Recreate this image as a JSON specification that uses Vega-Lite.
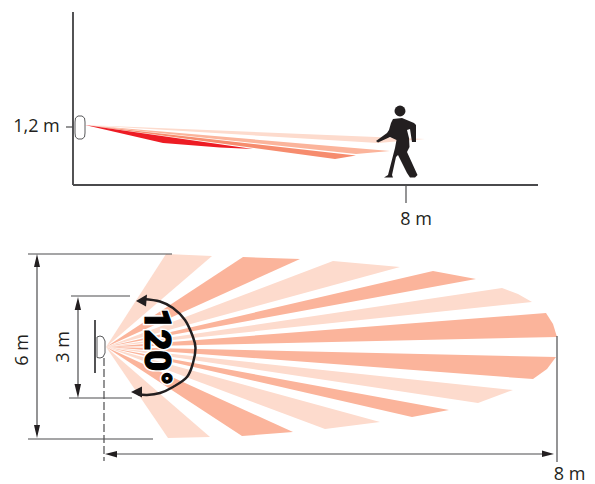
{"$schema":"https://vega.github.io/schema/vega-lite/v6.json","autosize":{"type":"fit","contains":"padding"},"width":595,"height":484,"padding":0,"background":"white","config":{"view":{"stroke":null}},
"datasets":{
"zones":[
{"s":"a1","k":"light","o":0,"x":85,"y":125},{"s":"a1","k":"light","o":1,"x":425,"y":139},{"s":"a1","k":"light","o":2,"x":378,"y":143},
{"s":"a2","k":"dark","o":0,"x":85,"y":125},{"s":"a2","k":"dark","o":1,"x":390,"y":151},{"s":"a2","k":"dark","o":2,"x":356,"y":154},
{"s":"a3","k":"medium","o":0,"x":85,"y":125},{"s":"a3","k":"medium","o":1,"x":356,"y":155.5},{"s":"a3","k":"medium","o":2,"x":335,"y":159},
{"s":"a4","k":"red","o":0,"x":85,"y":125},{"s":"a4","k":"red","o":1,"x":253,"y":149},{"s":"a4","k":"red","o":2,"x":220,"y":147.5},{"s":"a4","k":"red","o":3,"x":163,"y":143},
{"s":"w01","k":"light","o":0,"x":106,"y":347},{"s":"w01","k":"light","o":1,"x":166,"y":254},{"s":"w01","k":"light","o":2,"x":212,"y":256},
{"s":"w02","k":"dark","o":0,"x":106,"y":347},{"s":"w02","k":"dark","o":1,"x":243,"y":257},{"s":"w02","k":"dark","o":2,"x":300,"y":259},
{"s":"w03","k":"light","o":0,"x":106,"y":347},{"s":"w03","k":"light","o":1,"x":333,"y":261},{"s":"w03","k":"light","o":2,"x":400,"y":267},
{"s":"w04","k":"dark","o":0,"x":106,"y":347},{"s":"w04","k":"dark","o":1,"x":433,"y":271},{"s":"w04","k":"dark","o":2,"x":476,"y":279},
{"s":"w05","k":"light","o":0,"x":106,"y":347},{"s":"w05","k":"light","o":1,"x":502,"y":288},{"s":"w05","k":"light","o":2,"x":518,"y":294},{"s":"w05","k":"light","o":3,"x":532,"y":302},
{"s":"w06","k":"dark","o":0,"x":106,"y":347},{"s":"w06","k":"dark","o":1,"x":546,"y":313},{"s":"w06","k":"dark","o":2,"x":553,"y":324},{"s":"w06","k":"dark","o":3,"x":557,"y":337},
{"s":"w07","k":"dark","o":0,"x":106,"y":347},{"s":"w07","k":"dark","o":1,"x":556,"y":357},{"s":"w07","k":"dark","o":2,"x":547,"y":369},{"s":"w07","k":"dark","o":3,"x":533,"y":379},
{"s":"w08","k":"light","o":0,"x":106,"y":347},{"s":"w08","k":"light","o":1,"x":513,"y":390},{"s":"w08","k":"light","o":2,"x":478,"y":403},
{"s":"w09","k":"dark","o":0,"x":106,"y":347},{"s":"w09","k":"dark","o":1,"x":449,"y":410},{"s":"w09","k":"dark","o":2,"x":412,"y":417},
{"s":"w10","k":"light","o":0,"x":106,"y":347},{"s":"w10","k":"light","o":1,"x":380,"y":422},{"s":"w10","k":"light","o":2,"x":325,"y":429},
{"s":"w11","k":"dark","o":0,"x":106,"y":347},{"s":"w11","k":"dark","o":1,"x":293,"y":432},{"s":"w11","k":"dark","o":2,"x":242,"y":436},
{"s":"w12","k":"light","o":0,"x":106,"y":347},{"s":"w12","k":"light","o":1,"x":210,"y":437},{"s":"w12","k":"light","o":2,"x":168,"y":438}
],
"thin":[
{"x":28,"y":254,"x2":172,"y2":254},{"x":28,"y":439,"x2":153,"y2":439},{"x":37,"y":262,"x2":37,"y2":430},
{"x":71,"y":296,"x2":130,"y2":296},{"x":69,"y":398,"x2":132,"y2":398},{"x":78,"y":305,"x2":78,"y2":390},
{"x":112,"y":454,"x2":548,"y2":454},{"x":557,"y":336,"x2":557,"y2":462},
{"x":406,"y":185,"x2":406,"y2":203},{"x":66,"y":127,"x2":73,"y2":127}
],
"axes":[{"x":73,"y":12,"x2":73,"y2":185},{"x":73,"y":185,"x2":538,"y2":185},{"x":95,"y":320,"x2":95,"y2":373}],
"dashed":[{"x":104,"y":358,"x2":104,"y2":461}],
"sensors":[
{"s":"t","o":0,"x":78,"y":116},{"s":"t","o":1,"x":82,"y":116},{"s":"t","o":2,"x":84.5,"y":118},{"s":"t","o":3,"x":85,"y":122},{"s":"t","o":4,"x":85,"y":133},{"s":"t","o":5,"x":84.5,"y":137},{"s":"t","o":6,"x":82,"y":139},{"s":"t","o":7,"x":78,"y":139},{"s":"t","o":8,"x":75.5,"y":137},{"s":"t","o":9,"x":75,"y":133},{"s":"t","o":10,"x":75,"y":122},{"s":"t","o":11,"x":75.5,"y":118},{"s":"t","o":12,"x":78,"y":116},
{"s":"p","o":0,"x":97,"y":337},{"s":"p","o":1,"x":100,"y":336},{"s":"p","o":2,"x":103,"y":337},{"s":"p","o":3,"x":105,"y":341},{"s":"p","o":4,"x":105,"y":353},{"s":"p","o":5,"x":103,"y":357},{"s":"p","o":6,"x":100,"y":358},{"s":"p","o":7,"x":97,"y":357.5},{"s":"p","o":8,"x":97,"y":337}
],
"arc":[
{"o":0,"x":143,"y":299},{"o":1,"x":160,"y":301.5},{"o":2,"x":173,"y":308},{"o":3,"x":185,"y":320},{"o":4,"x":193,"y":337},{"o":5,"x":195.5,"y":348},{"o":6,"x":193,"y":363},{"o":7,"x":187,"y":377},{"o":8,"x":173,"y":387},{"o":9,"x":160,"y":393},{"o":10,"x":147,"y":395},{"o":11,"x":138,"y":394}
],
"solids":[
{"s":"h1","o":0,"x":37,"y":254},{"s":"h1","o":1,"x":34,"y":267},{"s":"h1","o":2,"x":40,"y":267},
{"s":"h2","o":0,"x":37,"y":438},{"s":"h2","o":1,"x":34,"y":425},{"s":"h2","o":2,"x":40,"y":425},
{"s":"h3","o":0,"x":78,"y":297},{"s":"h3","o":1,"x":74.7,"y":310},{"s":"h3","o":2,"x":81,"y":310},
{"s":"h4","o":0,"x":78,"y":398},{"s":"h4","o":1,"x":74.5,"y":384},{"s":"h4","o":2,"x":81,"y":384},
{"s":"h5","o":0,"x":105,"y":454},{"s":"h5","o":1,"x":117,"y":451},{"s":"h5","o":2,"x":117,"y":457.5},
{"s":"h6","o":0,"x":554,"y":454},{"s":"h6","o":1,"x":542,"y":450.5},{"s":"h6","o":2,"x":542,"y":457},
{"s":"h7","o":0,"x":136,"y":301},{"s":"h7","o":1,"x":147,"y":294.5},{"s":"h7","o":2,"x":146,"y":306.5},
{"s":"h8","o":0,"x":131,"y":392},{"s":"h8","o":1,"x":142,"y":386.5},{"s":"h8","o":2,"x":142,"y":397.5},
{"s":"b","o":0,"x":393,"y":119},{"s":"b","o":1,"x":402,"y":118},{"s":"b","o":2,"x":414,"y":123},{"s":"b","o":3,"x":416,"y":125},{"s":"b","o":4,"x":416,"y":142},{"s":"b","o":5,"x":412,"y":142},{"s":"b","o":6,"x":410,"y":129},{"s":"b","o":7,"x":407,"y":130},{"s":"b","o":8,"x":409,"y":138},{"s":"b","o":9,"x":409.5,"y":147},{"s":"b","o":10,"x":407,"y":152},{"s":"b","o":11,"x":417.5,"y":175},{"s":"b","o":12,"x":415,"y":177.5},{"s":"b","o":13,"x":410,"y":177.5},{"s":"b","o":14,"x":407,"y":173},{"s":"b","o":15,"x":398,"y":155},{"s":"b","o":16,"x":396,"y":157},{"s":"b","o":17,"x":392,"y":175},{"s":"b","o":18,"x":393,"y":177.5},{"s":"b","o":19,"x":384,"y":177.5},{"s":"b","o":20,"x":388,"y":175},{"s":"b","o":21,"x":395,"y":148},{"s":"b","o":22,"x":396.5,"y":140},{"s":"b","o":23,"x":390,"y":137},{"s":"b","o":24,"x":378,"y":142.5},{"s":"b","o":25,"x":376,"y":141},{"s":"b","o":26,"x":387,"y":133},{"s":"b","o":27,"x":389,"y":130},{"s":"b","o":28,"x":391,"y":123}
],
"head":[{"x":400,"y":111}],
"labels":[{"x":36.5,"y":127,"t":"1,2 m"},{"x":416,"y":220,"t":"8 m"},{"x":569.5,"y":475,"t":"8 m"}],
"vlabels":[{"x":23,"y":350,"t":"6 m"},{"x":64,"y":347,"t":"3 m"}],
"angle":[{"x":156,"y":347,"t":"120°"}]
},
"layer":[
{"data":{"name":"zones"},"mark":{"type":"line","filled":true,"strokeWidth":0},"encoding":{"x":{"field":"x","type":"quantitative","scale":{"domain":[0,595],"nice":false,"zero":false},"axis":null},"y":{"field":"y","type":"quantitative","scale":{"domain":[484,0],"nice":false,"zero":false},"axis":null},"detail":{"field":"s"},"order":{"field":"o","type":"quantitative"},"color":{"field":"k","type":"nominal","legend":null,"scale":{"domain":["light","dark","medium","red"],"range":["#fddbcd","#fbb49b","#f68c6e","#ed1c24"]}}}},
{"data":{"name":"sensors"},"mark":{"type":"line","fill":"white","stroke":"#58595b","strokeWidth":1},"encoding":{"x":{"field":"x","type":"quantitative","axis":null},"y":{"field":"y","type":"quantitative","axis":null},"detail":{"field":"s"},"order":{"field":"o","type":"quantitative"}}},
{"data":{"name":"thin"},"mark":{"type":"rule","color":"#4d4d4f","strokeWidth":1.2},"encoding":{"x":{"field":"x","type":"quantitative","axis":null},"y":{"field":"y","type":"quantitative","axis":null},"x2":{"field":"x2"},"y2":{"field":"y2"}}},
{"data":{"name":"axes"},"mark":{"type":"rule","color":"#4a4a4c","strokeWidth":1.9},"encoding":{"x":{"field":"x","type":"quantitative","axis":null},"y":{"field":"y","type":"quantitative","axis":null},"x2":{"field":"x2"},"y2":{"field":"y2"}}},
{"data":{"name":"dashed"},"mark":{"type":"rule","color":"#4d4d4f","strokeWidth":1.2,"strokeDash":[8,3]},"encoding":{"x":{"field":"x","type":"quantitative","axis":null},"y":{"field":"y","type":"quantitative","axis":null},"x2":{"field":"x2"},"y2":{"field":"y2"}}},
{"data":{"name":"angle"},"mark":{"type":"text","font":"Roboto","fontWeight":900,"fontSize":36,"angle":90,"align":"center","baseline":"middle","stroke":"white","strokeWidth":4,"fill":"white"},"encoding":{"x":{"field":"x","type":"quantitative","axis":null},"y":{"field":"y","type":"quantitative","axis":null},"text":{"field":"t"}}},
{"data":{"name":"arc"},"mark":{"type":"line","interpolate":"cardinal","color":"#231f20","strokeWidth":2.5},"encoding":{"x":{"field":"x","type":"quantitative","axis":null},"y":{"field":"y","type":"quantitative","axis":null},"order":{"field":"o","type":"quantitative"}}},
{"data":{"name":"solids"},"mark":{"type":"line","filled":true,"color":"#231f20","strokeWidth":0},"encoding":{"x":{"field":"x","type":"quantitative","axis":null},"y":{"field":"y","type":"quantitative","axis":null},"detail":{"field":"s"},"order":{"field":"o","type":"quantitative"}}},
{"data":{"name":"head"},"mark":{"type":"point","filled":true,"color":"#231f20","size":120,"opacity":1},"encoding":{"x":{"field":"x","type":"quantitative","axis":null},"y":{"field":"y","type":"quantitative","axis":null}}},
{"data":{"name":"angle"},"mark":{"type":"text","font":"Roboto","fontWeight":900,"fontSize":36,"angle":90,"align":"center","baseline":"middle","fill":"#000000","stroke":"#000000","strokeWidth":1.2},"encoding":{"x":{"field":"x","type":"quantitative","axis":null},"y":{"field":"y","type":"quantitative","axis":null},"text":{"field":"t"}}},
{"data":{"name":"labels"},"mark":{"type":"text","font":"Open Sans","fontSize":18,"align":"center","baseline":"middle","color":"#231f20"},"encoding":{"x":{"field":"x","type":"quantitative","axis":null},"y":{"field":"y","type":"quantitative","axis":null},"text":{"field":"t"}}},
{"data":{"name":"vlabels"},"mark":{"type":"text","font":"Open Sans","fontSize":18,"angle":270,"align":"center","baseline":"middle","color":"#231f20"},"encoding":{"x":{"field":"x","type":"quantitative","axis":null},"y":{"field":"y","type":"quantitative","axis":null},"text":{"field":"t"}}}
]}
